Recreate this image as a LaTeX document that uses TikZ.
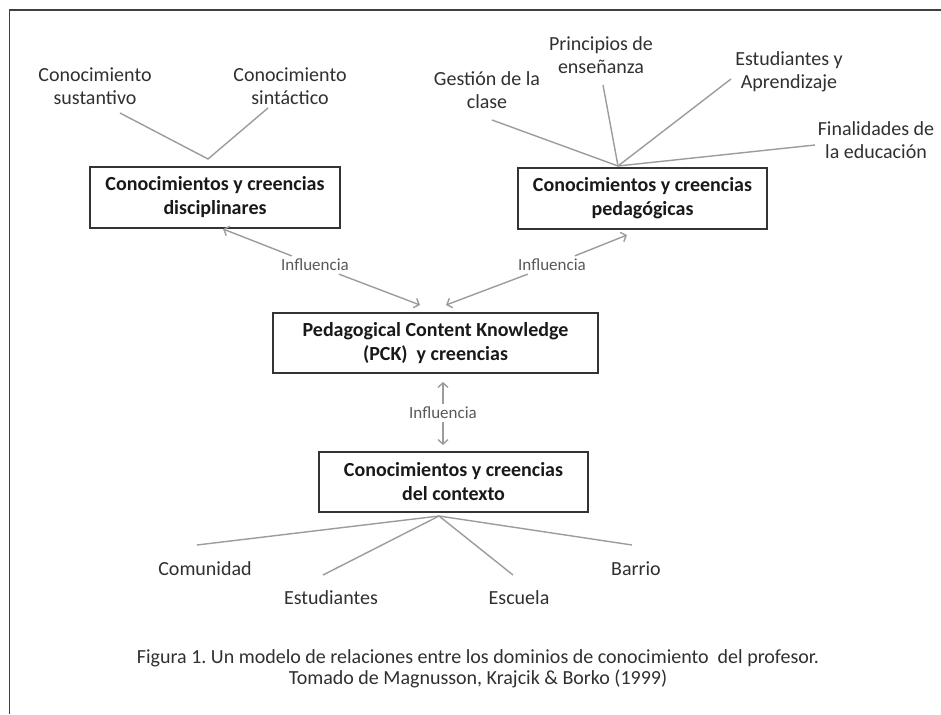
\documentclass[tikz,border=0pt]{standalone}
\usepackage{fontspec}
\setmainfont{Carlito}
\usetikzlibrary{arrows.meta}
\definecolor{connc}{HTML}{9C9C9C}
\definecolor{txtc}{HTML}{303030}
\frenchspacing
\begin{document}
\begin{tikzpicture}[x=1pt,y=-1pt,
 lbl/.style={text=txtc, align=center, font=\fontsize{20}{23}\selectfont, inner sep=1pt},
 boxn/.style={draw=black!80, line width=1.3pt, align=center, text=black!90,
   font=\fontsize{20}{24}\selectfont\bfseries, inner sep=0pt, minimum height=61pt},
 infl/.style={text=black!65, font=\fontsize{17}{19}\selectfont, inner sep=3pt},
 conn/.style={draw=connc, line width=1.4pt},
 arr/.style={conn, -{Straight Barb[length=4.5pt,width=10pt]}},
]
\useasboundingbox (0,0) rectangle (941,714);
\fill[white] (0,0) rectangle (941,714);
\draw[black!75, line width=1.8pt] (941,10) -- (9.5,10) -- (9.5,714);

% boxes
\node[boxn, minimum width=250pt] (disc) at (215,197.5) {Conocimientos y creencias\\disciplinares};
\node[boxn, minimum width=249pt] (ped) at (642.5,198.5) {Conocimientos y creencias\\pedagógicas};
\node[boxn, minimum width=325pt, minimum height=60pt] (pck) at (435.5,343) {Pedagogical Content Knowledge\\(PCK)\ \ y creencias};
\node[boxn, minimum width=269pt, minimum height=60pt] (ctx) at (453.5,482) {Conocimientos y creencias\\del contexto};

% disciplinary labels
\node[lbl] (sus) at (95,86) {Conocimiento\\sustantivo};
\node[lbl] (sin) at (290,86) {Conocimiento\\sintáctico};
\coordinate (vD) at (208,159);
\coordinate (vL) at (120,113);
\coordinate (vR) at (268,108);
\draw[conn] (vL) -- (vD) -- (vR);

% pedagogical labels
\node[lbl] (ges) at (487,90) {Gestión de la\\clase};
\node[lbl] (pri) at (601,55) {Principios de\\enseñanza};
\node[lbl] (est) at (789,72) {Estudiantes y\\Aprendizaje};
\node[lbl] (fin) at (876,140) {Finalidades de\\la educación};
\coordinate (hubP) at (618,166);
\coordinate (gesE) at (492,120);
\coordinate (priE) at (603,85);
\coordinate (estE) at (731,79);
\coordinate (finE) at (815,145);
\draw[conn] (gesE) -- (hubP);
\draw[conn] (priE) -- (hubP);
\draw[conn] (estE) -- (hubP);
\draw[conn] (finE) -- (hubP);

% influence arrows
\node[infl] (inL) at (315,265) {Influencia};
\node[infl] (inR) at (552,265) {Influencia};
\node[infl] (inB) at (443,413) {Influencia};
\coordinate (tDisc) at (223,229);
\coordinate (tPckL) at (420,305);
\coordinate (tPed) at (627,235);
\coordinate (tPckR) at (446,305);
\coordinate (tPckB) at (443,382);
\coordinate (tCtx) at (443,445);
\draw[arr] (inL) -- (tDisc);
\draw[arr] (inL) -- (tPckL);
\draw[arr] (inR) -- (tPed);
\draw[arr] (inR) -- (tPckR);
\draw[arr] (inB) -- (tPckB);
\draw[arr] (inB) -- (tCtx);

% context labels
\coordinate (hubC) at (439,516);
\node[lbl] (com) at (205,569) {Comunidad};
\node[lbl] (estu) at (331,598) {Estudiantes};
\node[lbl] (esc) at (519,598) {Escuela};
\node[lbl] (bar) at (636,569) {Barrio};
\coordinate (comE) at (197,545);
\coordinate (estuE) at (323,575);
\coordinate (escE) at (513,575);
\coordinate (barE) at (632,545);
\draw[conn] (comE) -- (hubC);
\draw[conn] (estuE) -- (hubC);
\draw[conn] (escE) -- (hubC);
\draw[conn] (barE) -- (hubC);

% caption
\node[text=txtc, align=center, font=\fontsize{20}{21}\selectfont] (cap) at (478,669)
 {Figura 1. Un modelo de relaciones entre los dominios de conocimiento\ \ del profesor.\\Tomado de Magnusson, Krajcik \& Borko (1999)};
\end{tikzpicture}
\end{document}
